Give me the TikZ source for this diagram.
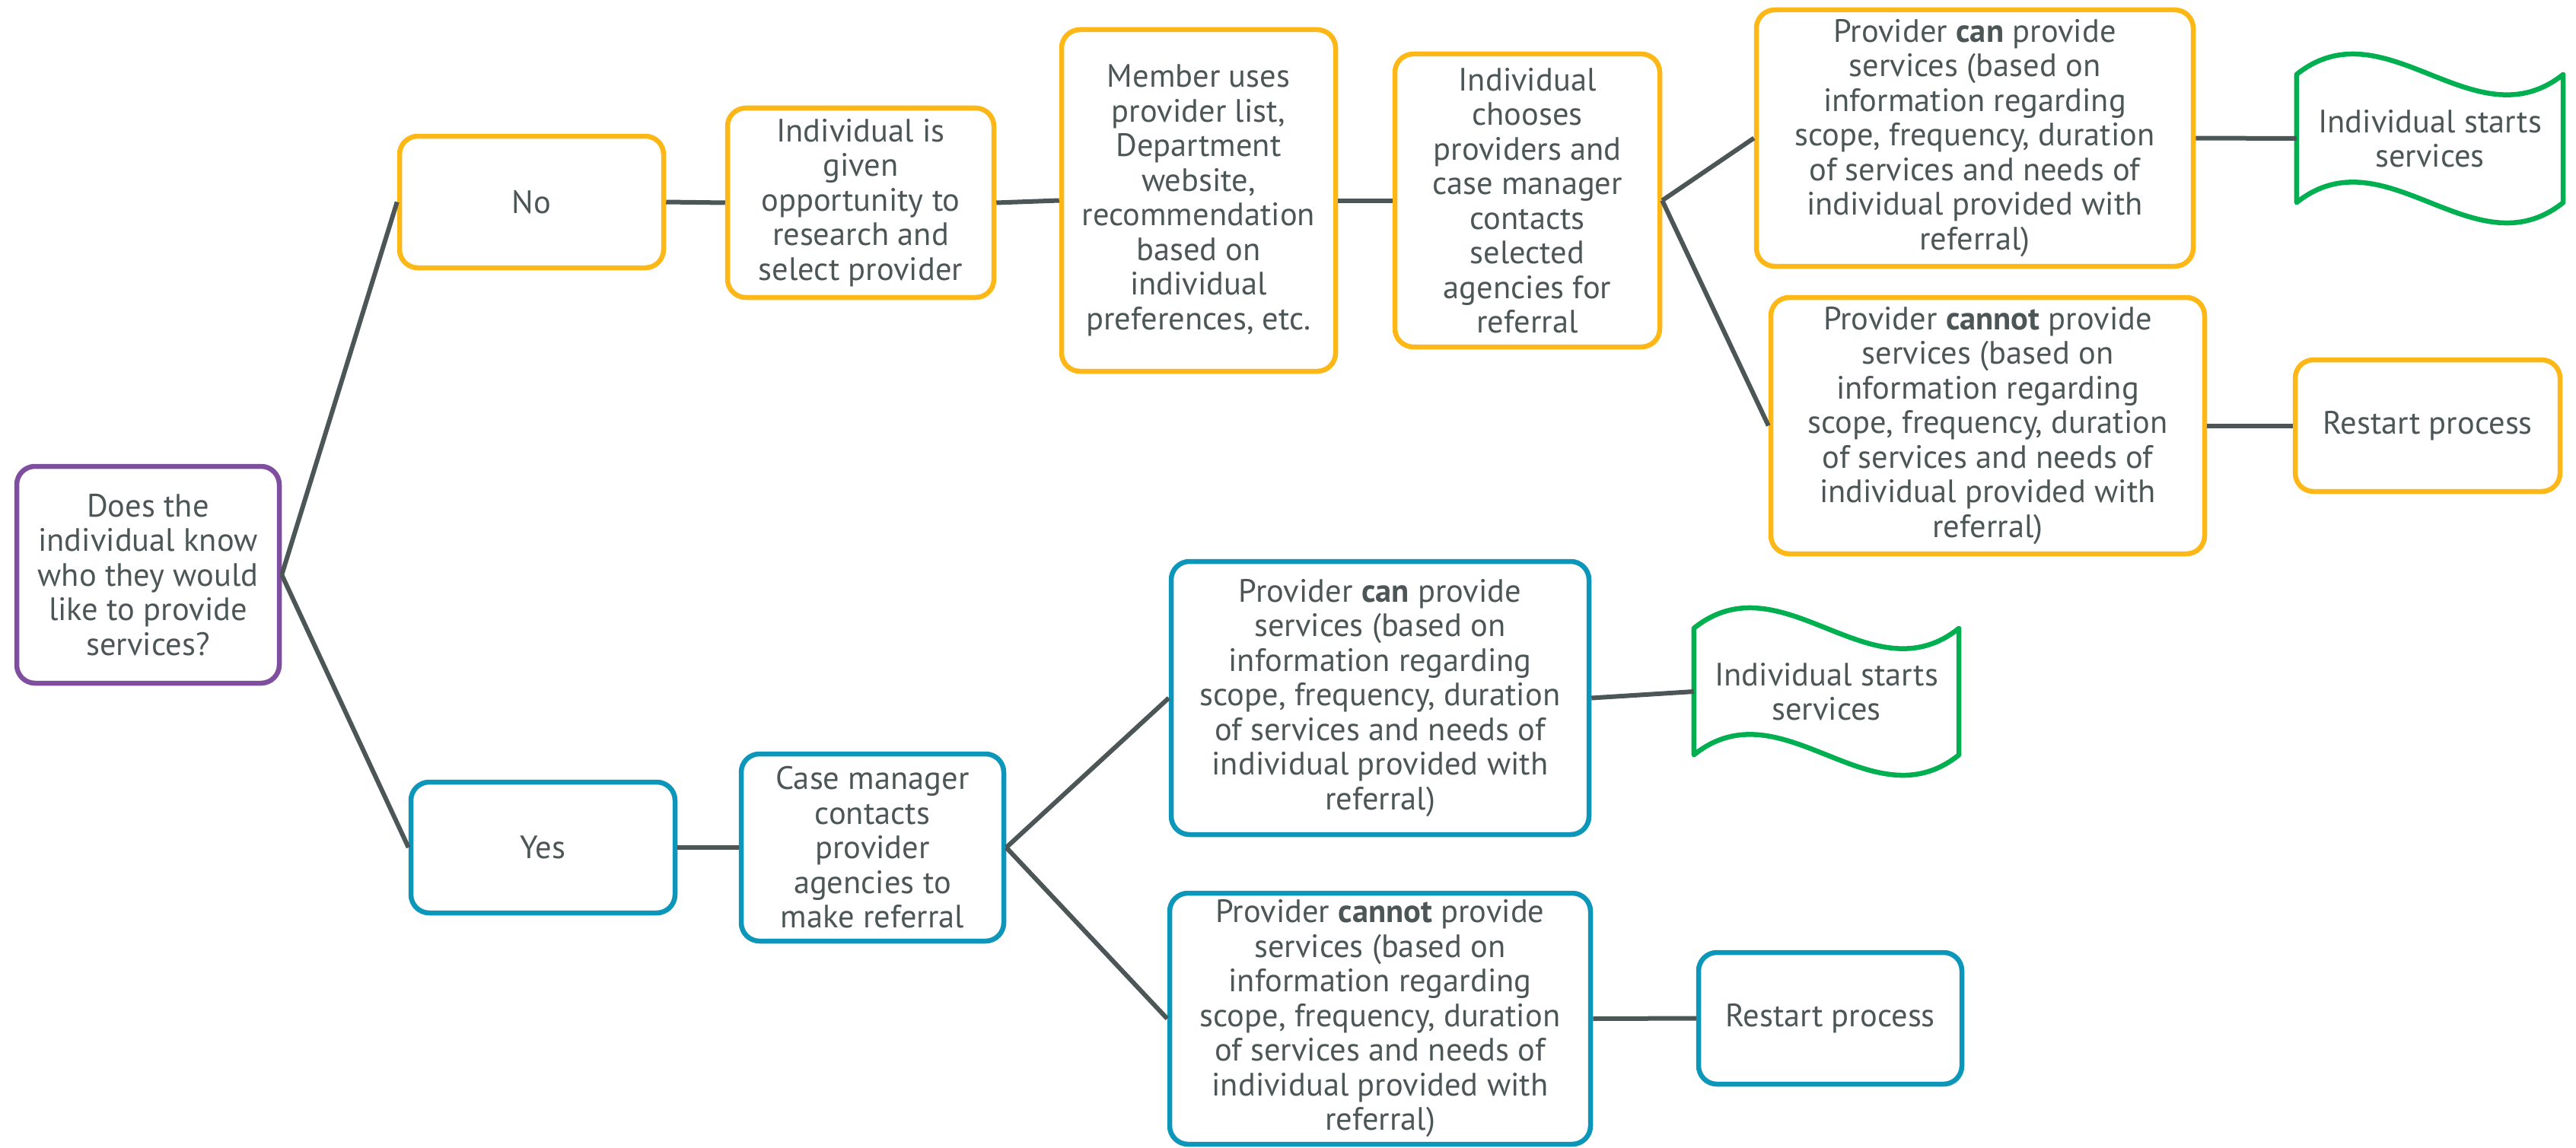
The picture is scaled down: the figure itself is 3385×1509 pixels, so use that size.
\documentclass[tikz,border=0pt]{standalone}
\usepackage{fontspec}
\setmainfont{PT Sans}
\definecolor{txt}{RGB}{77,86,86}
\definecolor{orng}{RGB}{253,183,22}
\definecolor{teal}{RGB}{12,150,186}
\definecolor{purp}{RGB}{128,78,158}
\definecolor{grn}{RGB}{0,176,80}
\definecolor{lineg}{RGB}{77,86,86}
\newcommand\fsz{\fontsize{42.5}{45.5}\selectfont}
\tikzset{
  box/.style={draw, rounded corners=24pt, line width=6.5pt, fill=white, align=center,
    text=txt, font=\fsz, inner sep=0pt, minimum width=#1},
  obox/.style={box=#1, draw=orng},
  tbox/.style={box=#1, draw=teal},
  pbox/.style={box=#1, draw=purp},
  wavenode/.style={align=center, text=txt, font=\fsz, inner sep=0pt,
    minimum width=350pt, minimum height=168pt},
  wavepath/.style={draw=grn, line width=6.5pt, fill=white, line join=round},
  conn/.style={draw=lineg, line width=6pt}
}
\begin{document}
\begin{tikzpicture}[x=1pt,y=-1pt]
\useasboundingbox (0,0) rectangle (3385,1509);
% question
\node[pbox=345pt, minimum height=285pt] (q) at (194.5,755.5)
  {Does the\\individual know\\who they would\\like to provide\\services?};
% No branch
\node[obox=347pt, minimum height=173pt] (no) at (698.5,265.5) {No};
\node[obox=350pt, minimum height=249pt] (given) at (1131,266.5)
  {Individual is\\given\\opportunity to\\research and\\select provider};
\node[obox=360pt, minimum height=449pt] (member) at (1575,263.5)
  {Member uses\\provider list,\\Department\\website,\\recommendation\\based on\\individual\\preferences, etc.};
\node[obox=348pt, minimum height=385pt] (choose) at (2007,263.5)
  {Individual\\chooses\\providers and\\case manager\\contacts\\selected\\agencies for\\referral};
\node[obox=574pt, minimum height=337pt] (cant) at (2595,181.5)
  {Provider \textbf{can} provide\\services (based on\\information regarding\\scope, frequency, duration\\of services and needs of\\individual provided with\\referral)};
\node[obox=570pt, minimum height=337pt] (cannott) at (2612,559.5)
  {Provider \textbf{cannot} provide\\services (based on\\information regarding\\scope, frequency, duration\\of services and needs of\\individual provided with\\referral)};
\node[obox=348pt, minimum height=173pt] (restartt) at (3190,559.5) {Restart process};
\node[wavenode] (startt) at (3193,182) {};
% Yes branch
\node[tbox=347pt, minimum height=172pt] (yes) at (713.5,1114) {Yes};
\node[tbox=345pt, minimum height=246pt] (case) at (1146.5,1114)
  {Case manager\\contacts\\provider\\agencies to\\make referral};
\node[tbox=549pt, minimum height=359pt] (canb) at (1813.5,917.5)
  {Provider \textbf{can} provide\\services (based on\\information regarding\\scope, frequency, duration\\of services and needs of\\individual provided with\\referral)};
\node[tbox=553pt, minimum height=330pt] (cannotb) at (1813.5,1339)
  {Provider \textbf{cannot} provide\\services (based on\\information regarding\\scope, frequency, duration\\of services and needs of\\individual provided with\\referral)};
\node[tbox=346pt, minimum height=173pt] (restartb) at (2405,1338.5) {Restart process};
\node[wavenode, minimum width=348pt, minimum height=166pt] (startb) at (2400,909) {};
% wave shapes
\draw[wavepath] (startt.north west) .. controls +(116.7,-93) and +(-116.7,93) .. (startt.north east)
  -- (startt.south east) .. controls +(-116.7,93) and +(116.7,-93) .. (startt.south west) -- cycle;
\node[wavenode] (startttext) at (startt.center) {Individual starts\\services};
\draw[wavepath] (startb.north west) .. controls +(116,-93) and +(-116,93) .. (startb.north east)
  -- (startb.south east) .. controls +(-116,93) and +(116,-93) .. (startb.south west) -- cycle;
\node[wavenode, minimum width=348pt, minimum height=166pt] (startbtext) at (startb.center) {Individual starts\\services};
% connectors
\draw[conn] (q.east) -- (no.west);
\draw[conn] (q.east) -- (yes.west);
\draw[conn] (no.east) -- (given.west);
\draw[conn] (given.east) -- (member.west);
\draw[conn] (member.east) -- (choose.west);
\draw[conn] (choose.east) -- (cant.west);
\draw[conn] (choose.east) -- (cannott.west);
\draw[conn] (cant.east) -- (startt.west);
\draw[conn] (cannott.east) -- (restartt.west);
\draw[conn] (yes.east) -- (case.west);
\draw[conn] (case.east) -- (canb.west);
\draw[conn] (case.east) -- (cannotb.west);
\draw[conn] (canb.east) -- (startb.west);
\draw[conn] (cannotb.east) -- (restartb.west);
\end{tikzpicture}
\end{document}
